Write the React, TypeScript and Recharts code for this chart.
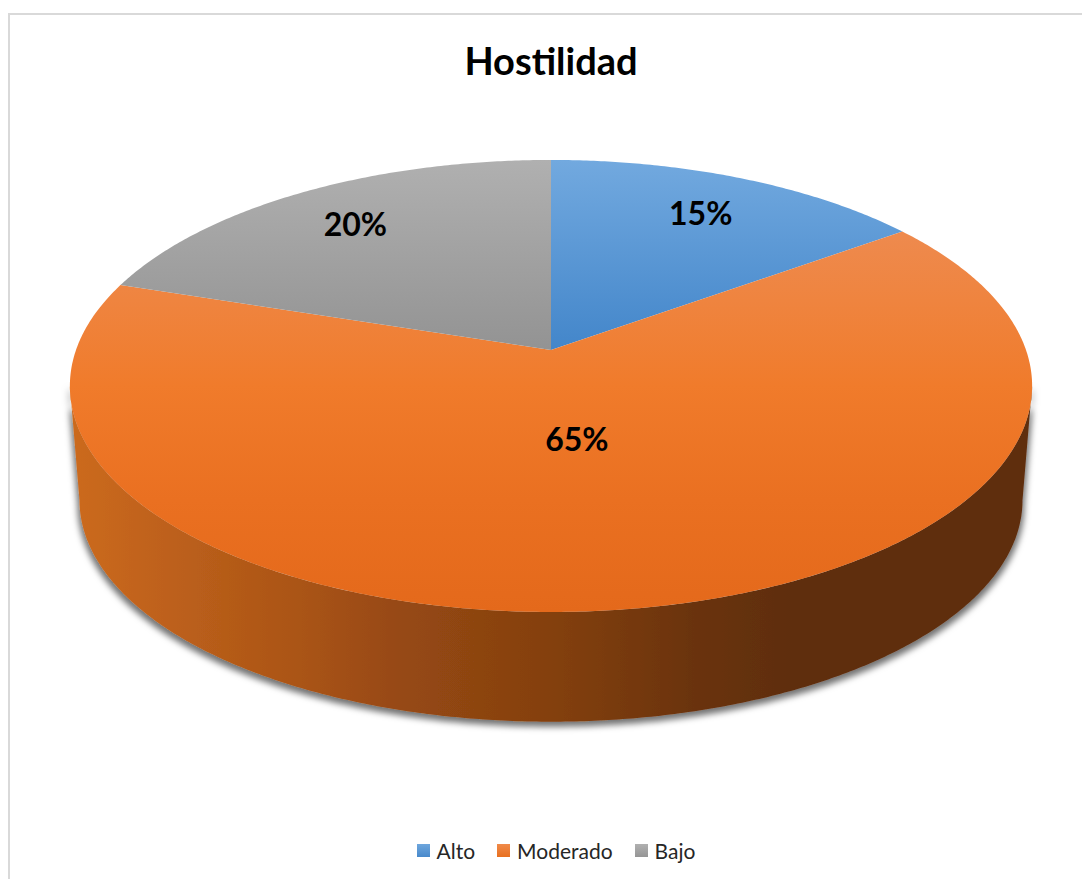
import React from 'react';
import { PieChart, Pie, Cell, Legend } from 'recharts';

// ---- data ----
const categories = ['Alto', 'Moderado', 'Bajo'];
const values = [15, 65, 20];
const valueLabels = ['15%', '65%', '20%'];
const colors = ['#5B9BD5', '#ED7D31', '#A5A5A5'];
const chartTitle = 'Hostilidad';

const data = categories.map((name, i) => ({ name, value: values[i], label: valueLabels[i] }));

// ---- styling / geometry ----
const W = 1082;
const H = 879;
const CX = 551;
const CY = 350;
const R = 475;
const K = 0.4638; // vertical squash of the disc
const P = -0.159; // perspective factor
const DEPTH = 115;
const BOTTOM_SCALE = 0.98;
const FONT = 'Lato, "Open Sans", sans-serif';

const topStops: [number, string][][] = [
  [[0, '#72a9df'], [0.42, '#4386ca']],
  [[0, '#f1945c'], [0.16, '#ee8a4e'], [0.31, '#ef843f'], [0.5, '#f07b2b'], [0.75, '#ea7021'], [1, '#e4691b']],
  [[0, '#b0b0b0'], [0.42, '#939393']],
];
const sideStops: [number, string][] = [
  [0, '#cc6a1f'], [0.24, '#aa5416'], [0.34, '#974913'], [0.5, '#84400f'],
  [0.65, '#6a3310'], [0.76, '#5e2d0d'], [1, '#5e2e0f'],
];
const legendGrad = [
  'linear-gradient(#6ea6dd, #4889cb)',
  'linear-gradient(#f08a4a, #e8701f)',
  'linear-gradient(#b0b0b0, #959595)',
];

function project(cx: number, cy: number, r: number, deg: number, frac = 1, scale = 1, dy = 0): [number, number] {
  const t = (deg * Math.PI) / 180;
  const X = Math.cos(t) * frac;
  const Y = -Math.sin(t) * frac;
  const d = 1 + P * Y;
  return [cx + (r * scale * X) / d, cy + dy + (K * r * scale * Y) / d];
}

function arcPoints(cx: number, cy: number, r: number, a0: number, a1: number, scale = 1, dy = 0) {
  const n = Math.max(2, Math.ceil(Math.abs(a1 - a0) / 0.5));
  const pts: [number, number][] = [];
  for (let i = 0; i <= n; i++) {
    const a = a0 + ((a1 - a0) * i) / n;
    pts.push(project(cx, cy, r, a, 1, scale, dy));
  }
  return pts;
}

const ptsToPath = (pts: [number, number][]) =>
  pts.map((p, i) => `${i === 0 ? 'M' : 'L'}${p[0].toFixed(2)},${p[1].toFixed(2)}`).join(' ');

const renderSide = (props: any) => {
  const { cx, cy, outerRadius, startAngle, endAngle, index } = props;
  const lo = Math.min(startAngle, endAngle);
  const hi = Math.max(startAngle, endAngle);
  const frontHi = (Math.asin(P) * 180) / Math.PI;
  const frontLo = -180 - frontHi;
  const paths: string[] = [];
  [-360, 0, 360].forEach((k) => {
    const a = Math.max(lo, frontLo + k);
    const b = Math.min(hi, frontHi + k);
    if (b > a) {
      const top = arcPoints(cx, cy, outerRadius, a, b);
      const bottom = arcPoints(cx, cy, outerRadius, b, a, BOTTOM_SCALE, DEPTH);
      paths.push(ptsToPath([...top, ...bottom]) + ' Z');
    }
  });
  if (!paths.length) return <g key={`side-${index}`} />;
  const x0 = cx - R * 1.013;
  const x1 = cx + R * 1.013;
  return (
    <g key={`side-${index}`}>
      <defs>
        <linearGradient id={`sideGrad-${index}`} x1={x0} y1={0} x2={x1} y2={0} gradientUnits="userSpaceOnUse">
          {sideStops.map(([o, c], i) => (
            <stop key={i} offset={o} stopColor={c} />
          ))}
        </linearGradient>
        <filter id={`sideShadow-${index}`} x="-5%" y="-20%" width="110%" height="150%">
          <feMorphology in="SourceAlpha" operator="dilate" radius={2} result="dil" />
          <feGaussianBlur in="dil" stdDeviation={3} result="blur" />
          <feOffset in="blur" dx={0} dy={3} result="off" />
          <feFlood floodColor="#000" floodOpacity={0.55} />
          <feComposite in2="off" operator="in" result="shadow" />
          <feMerge>
            <feMergeNode in="shadow" />
            <feMergeNode in="SourceGraphic" />
          </feMerge>
        </filter>
      </defs>
      {paths.map((d, i) => (
        <path key={i} d={d} fill={`url(#sideGrad-${index})`} filter={`url(#sideShadow-${index})`} />
      ))}
    </g>
  );
};

const renderTop = (props: any) => {
  const { cx, cy, outerRadius, startAngle, endAngle, index } = props;
  const rim = arcPoints(cx, cy, outerRadius, startAngle, endAngle);
  const d = `M${cx},${cy} ` + ptsToPath(rim).replace(/^M/, 'L') + ' Z';
  const yTop = cy - (K * outerRadius) / (1 - P);
  const yBot = cy + (K * outerRadius) / (1 + P);
  return (
    <g key={`top-${index}`}>
      <defs>
        <linearGradient id={`topGrad-${index}`} x1={0} y1={yTop} x2={0} y2={yBot} gradientUnits="userSpaceOnUse">
          {topStops[index].map(([o, c], i) => (
            <stop key={i} offset={o} stopColor={c} />
          ))}
        </linearGradient>
      </defs>
      <path d={d} fill={`url(#topGrad-${index})`} stroke="none" />
    </g>
  );
};

const renderText = (props: any) => {
  const { cx, cy, outerRadius, midAngle, percent, index, payload } = props;
  const big = percent > 0.5;
  const frac = big ? 0.39 : 0.77;
  const [x, y] = project(cx, cy, outerRadius, midAngle, frac);
  return (
    <text
      key={`txt-${index}`}
      x={x - (big ? 5 : 0)}
      y={y}
      dy={11}
      textAnchor="middle"
      fontFamily={FONT}
      fontWeight={700}
      fontSize={32}
      fill="#000"
    >
      {payload?.label ?? valueLabels[index]}
    </text>
  );
};

const renderLegend = (props: any) => {
  const raw = (props.payload || []).filter((e: any) => e.type !== 'none' && e.color && e.color !== 'none');
  const seen = new Set<string>();
  const payload = raw
    .filter((e: any) => {
      if (seen.has(e.value)) return false;
      seen.add(e.value);
      return true;
    })
    .sort((a: any, b: any) => categories.indexOf(a.value) - categories.indexOf(b.value));
  return (
    <div
      style={{
        display: 'flex',
        justifyContent: 'center',
        alignItems: 'center',
        paddingLeft: 30,
        fontFamily: FONT,
        fontSize: 21,
        color: '#262626',
        height: 30,
      }}
    >
      {payload.map((e: any, i: number) => {
        const ci = categories.indexOf(e.value);
        return (
          <div
            key={e.value}
            style={{ display: 'flex', alignItems: 'center', marginRight: i < payload.length - 1 ? 22 : 0 }}
          >
            <span
              style={{
                width: 13,
                height: 13,
                background: legendGrad[ci] || e.color,
                marginRight: 7,
                display: 'inline-block',
              }}
            />
            <span>{e.value}</span>
          </div>
        );
      })}
    </div>
  );
};

export default function App() {
  return (
    <div style={{ position: 'absolute', left: 0, top: 0, width: W, height: H, background: '#fff', overflow: 'hidden' }}>
      <div
        style={{
          position: 'absolute',
          left: 8,
          top: 13,
          width: W - 8,
          height: H - 13,
          borderTop: '2px solid #d9d9d9',
          borderLeft: '2px solid #d9d9d9',
          boxSizing: 'border-box',
        }}
      />
      <div style={{ position: 'absolute', left: 0, top: 0 }}>
        <PieChart width={W} height={H} margin={{ top: 0, right: 0, bottom: 0, left: 0 }}>
          <Pie
            data={data}
            dataKey="value"
            nameKey="name"
            cx={CX}
            cy={CY}
            outerRadius={R}
            startAngle={90}
            endAngle={-270}
            fill="none"
            stroke="none"
            legendType="none"
            label={renderSide}
            labelLine={false}
            isAnimationActive={false}
          />
          <Pie
            data={data}
            dataKey="value"
            nameKey="name"
            cx={CX}
            cy={CY}
            outerRadius={R}
            startAngle={90}
            endAngle={-270}
            stroke="none"
            label={renderTop}
            labelLine={false}
            isAnimationActive={false}
          >
            {data.map((d, i) => (
              <Cell key={d.name} fill={colors[i]} fillOpacity={0} stroke="none" />
            ))}
          </Pie>
          <Pie
            data={data}
            dataKey="value"
            nameKey="name"
            cx={CX}
            cy={CY}
            outerRadius={R}
            startAngle={90}
            endAngle={-270}
            fill="none"
            stroke="none"
            legendType="none"
            label={renderText}
            labelLine={false}
            isAnimationActive={false}
          />
          <Legend
            verticalAlign="bottom"
            content={renderLegend}
            wrapperStyle={{ left: 0, width: W, bottom: 14 }}
          />
        </PieChart>
      </div>
      <div
        style={{
          position: 'absolute',
          left: CX,
          top: 38,
          transform: 'translateX(-50%)',
          fontFamily: FONT,
          fontWeight: 700,
          fontSize: 38,
          lineHeight: 1.2,
          color: '#000',
          whiteSpace: 'nowrap',
        }}
      >
        {chartTitle}
      </div>
    </div>
  );
}
